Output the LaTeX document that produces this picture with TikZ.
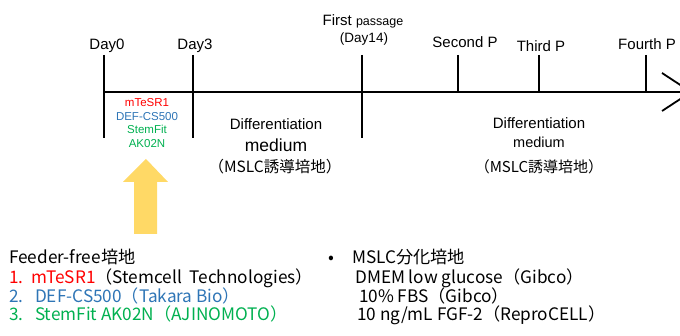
\documentclass[tikz,border=0pt]{standalone}
\usepackage{fontspec}
\setmainfont{Liberation Sans}
\newfontfamily\jp{Noto Sans CJK JP}
\definecolor{medred}{HTML}{FF0000}
\definecolor{medblue}{HTML}{2E75B6}
\definecolor{medgreen}{HTML}{00B050}
\definecolor{arrowyellow}{HTML}{FFD966}
\tikzset{
  axis/.style={line width=1.8pt},
  lbl/.style={anchor=base,inner sep=0pt,font=\fontsize{15}{18}\selectfont},
  small/.style={anchor=base,inner sep=0pt,font=\fontsize{11.5}{13}\selectfont},
  item/.style={anchor=base west,inner sep=0pt,font=\jp\fontsize{17.2}{20}\selectfont}
}
\begin{document}
\begin{tikzpicture}[x=1pt,y=-1pt]
  \useasboundingbox (0,0) rectangle (680,336);
  \clip (0,0) rectangle (680,336);
  \draw[axis] (104,92) -- (691,92);
  \draw[axis] (662,73) -- (691,92) -- (662,111);
  \foreach \x in {104,193,362}
    \draw[axis] (\x,55) -- (\x,138);
  \foreach \x in {458,539,646}
    \draw[axis] (\x,55) -- (\x,92);
  \node[lbl] (day0) at (107,50) {Day0};
  \node[lbl] (day3) at (195,50) {Day3};
  \node[lbl] (first) at (363,26) {First {\fontsize{12.5}{14}\selectfont passage}};
  \node[lbl,font=\fontsize{13.5}{16}\selectfont] (day14) at (364,43) {(Day14)};
  \node[lbl] (second) at (465,48) {Second P};
  \node[lbl] (third) at (541,52) {Third P};
  \node[lbl] (fourth) at (647,50) {Fourth P};
  \node[small,text=medred] (mtesr) at (147,107) {mTeSR1};
  \node[small,text=medblue] (defcs) at (147,121) {DEF-CS500};
  \node[small,text=medgreen] (stemfit) at (147,134) {StemFit};
  \node[small,text=medgreen] (ak02n) at (147,148) {AK02N};
  \node[lbl] (diffa) at (276,130) {Differentiation};
  \node[lbl,font=\fontsize{17.5}{20}\selectfont] (meda) at (276,152) {medium};
  \node[lbl,font=\jp\fontsize{15.5}{18}\selectfont] (mslca) at (275,173) {（MSLC誘導培地）};
  \node[lbl] (diffb) at (539,129) {Differentiation};
  \node[lbl,font=\fontsize{14.5}{16}\selectfont] (medb) at (539,148) {medium};
  \node[lbl,font=\jp\fontsize{15}{18}\selectfont] (mslcb) at (539,173) {（MSLC誘導培地）};
  \fill[arrowyellow] (134,234) -- (134,182) -- (123,182) -- (146,159) -- (168,182) -- (157,182) -- (157,234) -- cycle;
  \node[item] (feeder) at (9,264) {Feeder-free培地};
  \node[item] (one) at (9,284) {\textcolor{medred}{1.\ \ mTeSR1}（Stemcell\ \ Technologies）};
  \node[item,text=medblue] (two) at (9,303) {2.\ \ \ DEF-CS500（Takara Bio）};
  \node[item,text=medgreen] (three) at (9,321) {3.\ \ \ StemFit AK02N（AJINOMOTO）};
  \node[item] (bullet) at (328,264) {•};
  \node[item] (mslc) at (352,264) {MSLC分化培地};
  \node[item] (dmem) at (355,284) {DMEM low glucose（Gibco）};
  \node[item] (fbs) at (359,303) {10\% FBS（Gibco）};
  \node[item] (fgf) at (357,321) {10 ng/mL FGF-2（ReproCELL）};
\end{tikzpicture}
\end{document}
